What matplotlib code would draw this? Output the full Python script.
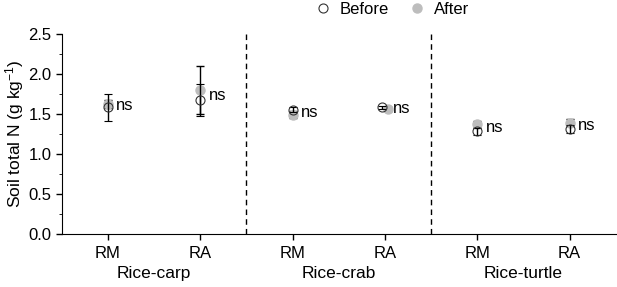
import matplotlib.pyplot as plt
from matplotlib.lines import Line2D
import numpy as np

plt.rcParams['font.family'] = ['Liberation Sans', 'DejaVu Sans']
plt.rcParams['mathtext.default'] = 'regular'

# data
systems = ['Rice-carp', 'Rice-crab', 'Rice-turtle']
treatments = ['RM', 'RA', 'RM', 'RA', 'RM', 'RA']
before_mean = [1.58, 1.67, 1.55, 1.58, 1.28, 1.31]
before_sd = [0.17, 0.20, 0.03, 0.02, 0.04, 0.05]
after_mean = [1.62, 1.80, 1.49, 1.56, 1.37, 1.39]
after_sd = [0.05, 0.30, 0.04, 0.02, 0.04, 0.04]
sig = ['ns', 'ns', 'ns', 'ns', 'ns', 'ns']

x = np.arange(1, len(treatments) + 1)
# small horizontal shift where the two symbols sit side by side
shift = np.array([0, 0, 0, 0.035, 0, 0])

fig = plt.figure(figsize=(6.17, 2.87), dpi=100)
ax = fig.add_axes([0.100, 0.185, 0.898, 0.697])

ax.errorbar(x + shift, after_mean, yerr=after_sd, fmt='o', ms=6.5,
            mfc='#bdbdbd', mec='#bdbdbd', ecolor='black', elinewidth=1,
            capsize=3, capthick=1, zorder=3)
ax.errorbar(x - shift, before_mean, yerr=before_sd, fmt='o', ms=6.5,
            mfc='none', mec='#333333', mew=0.8, ecolor='black', elinewidth=1,
            capsize=3, capthick=1, zorder=4)

for xi, m1, m2, s in zip(x, before_mean, after_mean, sig):
    ax.text(xi + 0.09, (m1 + m2) / 2, s, fontsize=12, va='center', ha='left')

for xd in [2.5, 4.5]:
    ax.axvline(xd, color='black', ls=(0, (4, 3)), lw=1)

ax.set_xlim(0.5, 6.5)
ax.set_ylim(0, 2.5)
ax.set_yticks(np.arange(0, 2.51, 0.5))
ax.set_yticks(np.arange(0, 2.51, 0.25), minor=True)
ax.yaxis.set_major_formatter(plt.FormatStrFormatter('%.1f'))
ax.set_xticks(x)
ax.set_xticklabels(treatments)
ax.tick_params(axis='both', direction='out', labelsize=12, width=1)
ax.tick_params(axis='y', which='major', length=4)
ax.tick_params(axis='y', which='minor', length=2.5)
ax.tick_params(axis='x', length=4, pad=5)
ax.spines['top'].set_visible(False)
ax.spines['right'].set_visible(False)
fig.text(15 / 617, 0.185 + 0.697 / 2, 'Soil total N (g kg$^{-1}$)',
         rotation=90, ha='center', va='center', fontsize=12.5)

for i, name in enumerate(systems):
    ax.text(1.5 + 2 * i, -0.5, name, transform=ax.transData, ha='center',
            va='center', fontsize=12.5)

handles = [Line2D([], [], ls='none', marker='o', ms=6.5, mfc='none',
                  mec='#333333', mew=0.8),
           Line2D([], [], ls='none', marker='o', ms=6.5, mfc='#bdbdbd',
                  mec='#bdbdbd')]
fig.legend(handles, ['Before', 'After'], loc='upper center',
           bbox_to_anchor=(0.635, 1.045), ncol=2, frameon=False,
           fontsize=12, columnspacing=1.2, handletextpad=0.5,
           handlelength=1.0)

fig.savefig('out.png', dpi=100)
